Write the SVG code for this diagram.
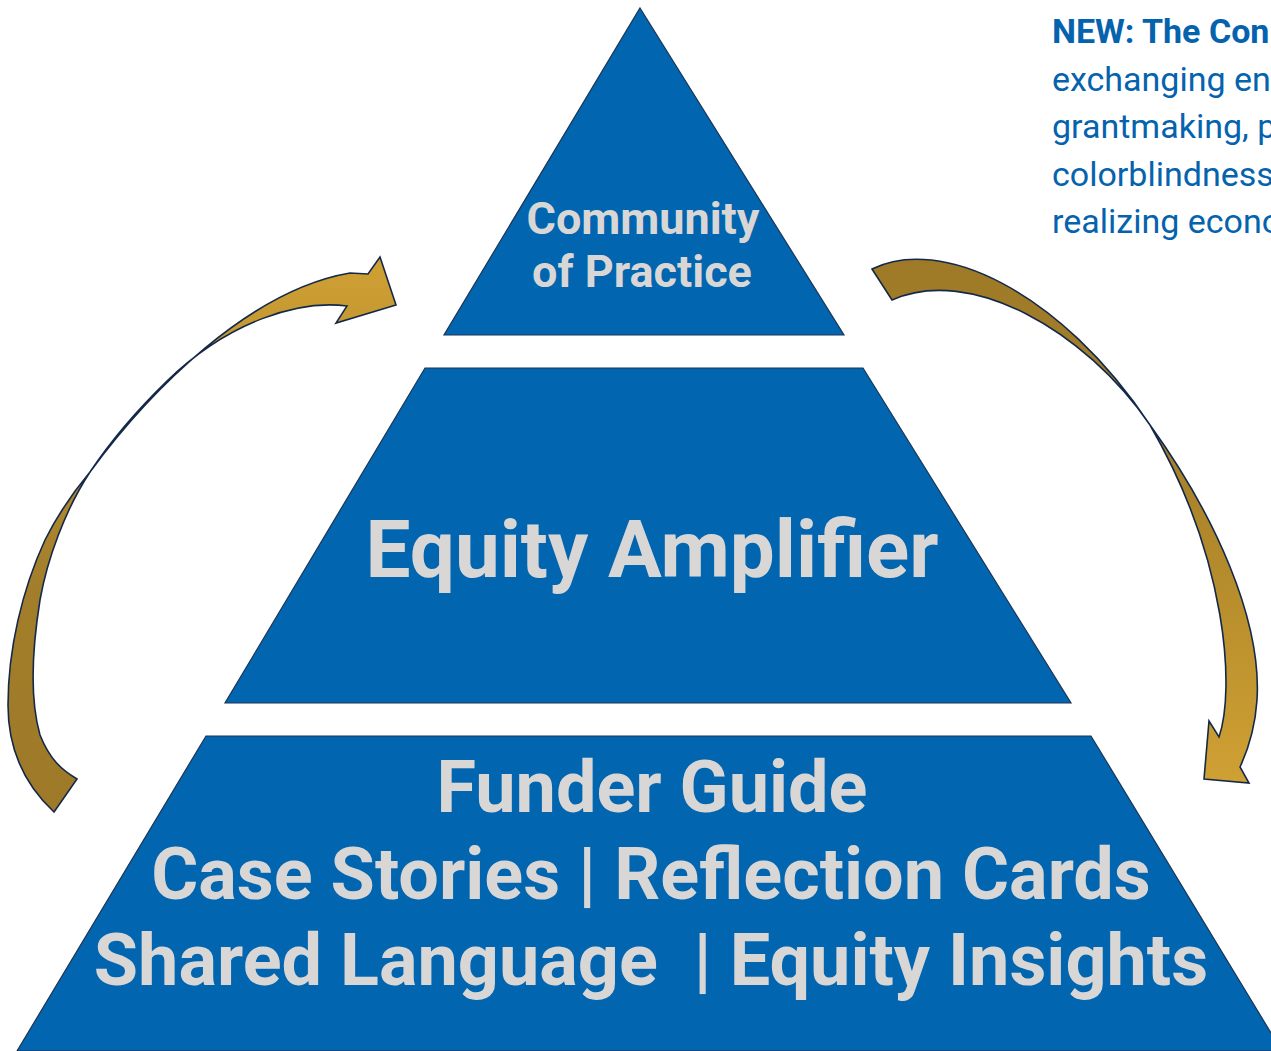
<svg xmlns="http://www.w3.org/2000/svg" width="1271" height="1051" viewBox="0 0 1271 1051">
  <defs>
    <linearGradient id="gL" x1="0" y1="1" x2="0" y2="0">
      <stop offset="0" stop-color="#9E7A28"/>
      <stop offset="0.4" stop-color="#A27E2B"/>
      <stop offset="1" stop-color="#CFA033"/>
    </linearGradient>
    <linearGradient id="gR" x1="0" y1="0" x2="0" y2="1">
      <stop offset="0" stop-color="#9E7A28"/>
      <stop offset="0.4" stop-color="#A88229"/>
      <stop offset="1" stop-color="#CFA033"/>
    </linearGradient>
    <style>
      .tier { fill: #0265B0; stroke: #1B3556; stroke-width: 1.2; stroke-linejoin: miter; }
      .lbl { fill: #D9D7D6; text-anchor: middle; font-weight: 700; font-family: Roboto, "Liberation Sans", sans-serif; }
      .arrow { stroke: #14294A; stroke-width: 1.6; stroke-linejoin: miter; }
      .note { fill: #0563AE; font-family: Roboto, "Liberation Sans", sans-serif; font-size: 34px; }
    </style>
  </defs>
  <rect width="1271" height="1051" fill="#FFFFFF"/>

  <g id="tier-top">
    <polygon class="tier" points="640,8 844,335 444,335"/>
    <text class="lbl" font-size="45" x="643" y="234">Community</text>
    <text class="lbl" font-size="45" x="642" y="287">of Practice</text>
  </g>

  <g id="tier-middle">
    <polygon class="tier" points="425,368 863,368 1071,703 225,703"/>
    <text class="lbl" font-size="80" x="652" y="577">Equity Amplifier</text>
  </g>

  <g id="tier-bottom">
    <polygon class="tier" points="206,736 1091,736 1282,1051 17,1051"/>
    <text class="lbl" font-size="72" x="652" y="812">Funder Guide</text>
    <text class="lbl" font-size="72" x="651" y="899">Case Stories | Reflection Cards</text>
    <text class="lbl" font-size="72" x="651" y="985" xml:space="preserve">Shared Language  | Equity Insights</text>
  </g>

  <g id="note">
    <text class="note" x="1052" y="43" font-weight="700">NEW: The Con</text>
    <text class="note" x="1052" y="91">exchanging en</text>
    <text class="note" x="1052" y="138">grantmaking, p</text>
    <text class="note" x="1052" y="186">colorblindness</text>
    <text class="note" x="1052" y="233">realizing econo</text>
  </g>

  <g id="connectors">
    <path class="arrow" fill="url(#gL)" d="M 54 812 C 25 785, 8 750, 8 705 C 8 650, 22 590, 45 540 C 60 510, 75 490, 90 472 C 150 390, 250 290, 350 273 L 368 274 L 380 257 L 396 305 L 336 323 L 347 306 C 300 300, 230 320, 167 381 C 135 412, 110 442, 90 472 C 65 510, 47 560, 40 600 C 32 650, 30 700, 40 735 C 50 760, 62 770, 77 779 Z"/>
    <path class="arrow" fill="url(#gR)" d="M 872 269 C 940 235, 1060 290, 1150 425 C 1215 515, 1262 620, 1257 700 C 1255 730, 1247 752, 1240 767 L 1249 783 L 1204 779 L 1209 721 L 1219 737 C 1235 690, 1228 560, 1150 425 C 1085 330, 970 265, 892 300 Z"/>
  </g>
</svg>
